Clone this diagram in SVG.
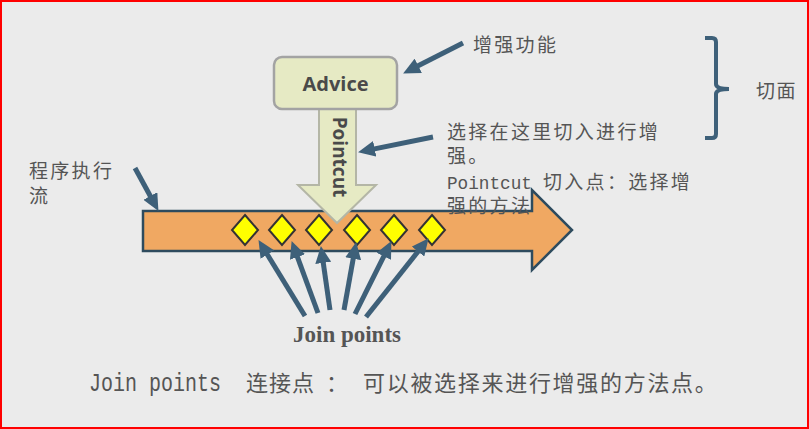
<svg xmlns="http://www.w3.org/2000/svg" width="809" height="429" viewBox="0 0 809 429">
  <defs>
    <style>
      .lbl { font-family: "Noto Sans CJK SC", "Noto Sans", sans-serif; fill: #555555; }
      .mono { font-family: "Liberation Mono", "DejaVu Sans Mono", monospace; fill: #555555; }
      .conn { stroke: #3e6079; stroke-width: 5; fill: none; marker-end: url(#ah); }
      .dia { fill: #ffff00; stroke: #333333; stroke-width: 2; }
      .bold { font-family: "Open Sans", "Noto Sans", sans-serif; font-weight: bold; fill: #4a4a4a; }
    </style>
    <marker id="ah" markerUnits="userSpaceOnUse" markerWidth="17" markerHeight="16" refX="4" refY="8" orient="auto">
      <path d="M0,0 L17,8 L0,16 z" fill="#3e6079"/>
    </marker>
  </defs>

  <rect x="0" y="0" width="809" height="429" fill="#ebebeb"/>
  <rect x="1" y="1" width="807" height="427" fill="none" stroke="#ff0000" stroke-width="2"/>

  <g id="flow">
    <polygon points="143,211 532,211 532,190 572,230 532,270 532,251 143,251" fill="#f0a862" stroke="#2e4b5e" stroke-width="2.5" stroke-linejoin="miter"/>
  </g>

  <g id="joinpoints-diamonds">
    <polygon class="dia" points="245,215 258,230 245,245 232,230"/>
    <polygon class="dia" points="282,215 295,230 282,245 269,230"/>
    <polygon class="dia" points="319,215 332,230 319,245 306,230"/>
    <polygon class="dia" points="357,215 370,230 357,245 344,230"/>
    <polygon class="dia" points="394,215 407,230 394,245 381,230"/>
    <polygon class="dia" points="432,215 445,230 432,245 419,230"/>
  </g>

  <g id="pointcut">
    <polygon points="319,108 356,108 356,185 376,185 337,223 298,185 319,185" fill="#e6eac4" stroke="#b4b6a6" stroke-width="2"/>
    <text class="bold" font-size="19" text-anchor="middle" transform="translate(333,157) rotate(90)">Pointcut</text>
  </g>

  <g id="advice">
    <rect x="274" y="57" width="123" height="52" rx="8" ry="8" fill="#e6eac4" stroke="#a3a3a3" stroke-width="2.5"/>
    <text class="bold" x="335.5" y="91" font-size="20" text-anchor="middle">Advice</text>
  </g>

  <g id="connectors">
    <line class="conn" x1="463" y1="43" x2="414.7" y2="67.6"/>
    <line class="conn" x1="433" y1="137" x2="370.8" y2="149.6"/>
    <line class="conn" x1="135" y1="168" x2="152.2" y2="199.5"/>
    <line class="conn" x1="305" y1="316" x2="265.3" y2="251.2"/>
    <line class="conn" x1="318" y1="313" x2="296.1" y2="253.3"/>
    <line class="conn" x1="330" y1="310" x2="322.7" y2="258.9"/>
    <line class="conn" x1="344" y1="310" x2="353.9" y2="254.8"/>
    <line class="conn" x1="355" y1="314" x2="385.6" y2="252.7"/>
    <line class="conn" x1="366" y1="317" x2="420.5" y2="248.4"/>
    <path d="M705,38 L712,38 Q716,38 716,42 L716,84 Q716,89 729,89 Q716,89 716,94 L716,134 Q716,138 712,138 L705,138" fill="none" stroke="#3e6079" stroke-width="4"/>
  </g>

  <g id="label-advice">
    <text class="lbl" x="473" y="52" font-size="19" letter-spacing="2.3">增强功能</text>
  </g>
  <g id="label-aspect">
    <text class="lbl" x="756" y="98" font-size="19" letter-spacing="1.5">切面</text>
  </g>
  <g id="label-flow">
    <text class="lbl" x="29" y="178" font-size="19" letter-spacing="2.3">程序执行</text>
    <text class="lbl" x="29" y="203" font-size="19">流</text>
  </g>
  <g id="label-pointcut">
    <text class="lbl" x="447" y="139" font-size="19" letter-spacing="2.3">选择在这里切入进行增</text>
    <text class="lbl" x="447" y="163" font-size="19" letter-spacing="2.3">强。</text>
    <text class="mono" x="447" y="189" font-size="19" textLength="85" lengthAdjust="spacingAndGlyphs">Pointcut</text>
    <text class="lbl" x="543" y="189" font-size="19" letter-spacing="2.3">切入点：选择增</text>
    <text class="lbl" x="447" y="213" font-size="19" letter-spacing="2.3">强的方法</text>
  </g>
  <g id="label-joinpoints">
    <text x="293" y="342" font-family="Liberation Serif, Times New Roman, serif" font-weight="bold" font-size="23" fill="#555555">Join points</text>
  </g>
  <g id="caption">
    <text class="mono" x="89" y="391" font-size="25" textLength="132" lengthAdjust="spacingAndGlyphs">Join points</text>
    <text class="lbl" x="246" y="391" font-size="22" letter-spacing="1">连接点</text>
    <text class="lbl" x="326" y="391" font-size="22">：</text>
    <text class="lbl" x="363" y="391" font-size="22" letter-spacing="1.7">可以被选择来进行增强的方法点。</text>
  </g>
</svg>
